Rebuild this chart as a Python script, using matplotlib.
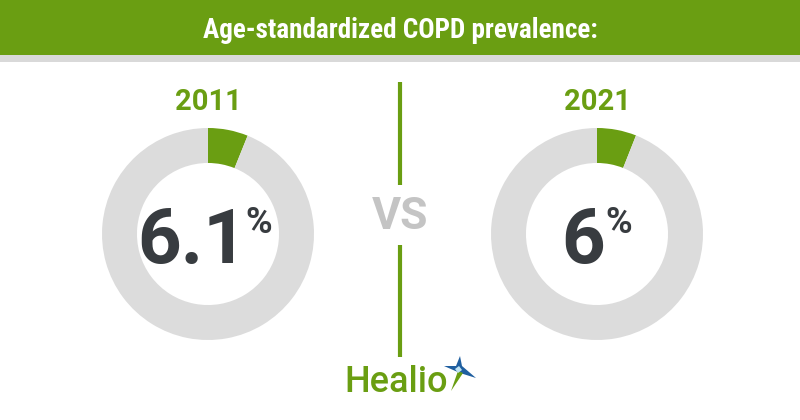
import matplotlib
matplotlib.use("Agg")
import matplotlib.pyplot as plt
from matplotlib.patches import Rectangle, Polygon

# --- data ---
title = "Age-standardized COPD prevalence:"
years = ["2011", "2021"]
prevalence = [6.1, 6.0]
value_labels = ["6.1", "6"]

GREEN = "#6a9e12"
RING_GRAY = "#dcdcdc"
DARK = "#383c40"
VS_GRAY = "#c4c4c4"
BLUE = "#1f5fa0"

plt.rcParams["font.family"] = ["Roboto", "DejaVu Sans"]

fig = plt.figure(figsize=(8, 4.2), dpi=100)
fig.patch.set_facecolor("white")

# donuts first, so the text layer sits above them
centers = [(208, 234), (597, 234)]
radius = 106
for (cx, cy), val in zip(centers, prevalence):
    ax = fig.add_axes([(cx - radius) / 800, (420 - cy - radius) / 420,
                       2 * radius / 800, 2 * radius / 420])
    ax.pie([val, 100 - val], colors=[GREEN, RING_GRAY], startangle=90,
           counterclock=False, radius=1,
           wedgeprops=dict(width=0.33, linewidth=0))
    ax.set_xlim(-1, 1)
    ax.set_ylim(-1, 1)
    ax.axis("off")

# overlay axes in pixel coordinates (y grows downward)
bg = fig.add_axes([0, 0, 1, 1])
bg.set_xlim(0, 800)
bg.set_ylim(420, 0)
bg.patch.set_alpha(0)
bg.axis("off")

# banner + grey stripe
bg.add_patch(Rectangle((0, 0), 800, 55, color=GREEN, lw=0))
bg.add_patch(Rectangle((0, 55), 800, 6.5, color="#d9d9d9", lw=0))
bg.text(400, 30, title, color="white", fontsize=19.5, fontweight="bold",
        family=["Liberation Sans Narrow", "Roboto Condensed", "Roboto", "DejaVu Sans"],
        ha="center", va="center")

# divider with VS
bg.plot([400, 400], [82, 185], color=GREEN, lw=3, solid_capstyle="butt")
bg.plot([400, 400], [245, 357], color=GREEN, lw=3, solid_capstyle="butt")
bg.text(400, 217, "VS", color=VS_GRAY, fontsize=32, fontweight="bold",
        ha="center", va="center")

# labels in the donuts
num_x = [192, 583]
pct_x = [259, 619]
for (cx, cy), yr, lab, nx, px in zip(centers, years, value_labels, num_x, pct_x):
    bg.text(cx, 102, yr, color=GREEN, fontsize=21, fontweight="bold",
            ha="center", va="center")
    bg.text(nx, 263, lab, color=DARK, fontsize=55, fontweight="bold",
            ha="center", va="baseline")
    bg.text(px, 233, "%", color=DARK, fontsize=26, fontweight="bold",
            ha="center", va="baseline")

# Healio logo
bg.text(344, 392, "Healio", color=GREEN, fontsize=26, fontweight="medium",
        ha="left", va="baseline")
bg.add_patch(Polygon([(460, 356), (462, 366), (476, 378), (460, 373),
                      (444, 366), (456, 366)], closed=True, color=BLUE, lw=0))
bg.add_patch(Polygon([(458, 371), (463, 373), (451, 391)], closed=True,
                     color=GREEN, lw=0))
bg.add_patch(Polygon([(459, 366), (462, 370), (458, 373), (455, 369)],
                     closed=True, color="#bfe3f5", lw=0))

fig.savefig("out.png", dpi=100, facecolor="white")
